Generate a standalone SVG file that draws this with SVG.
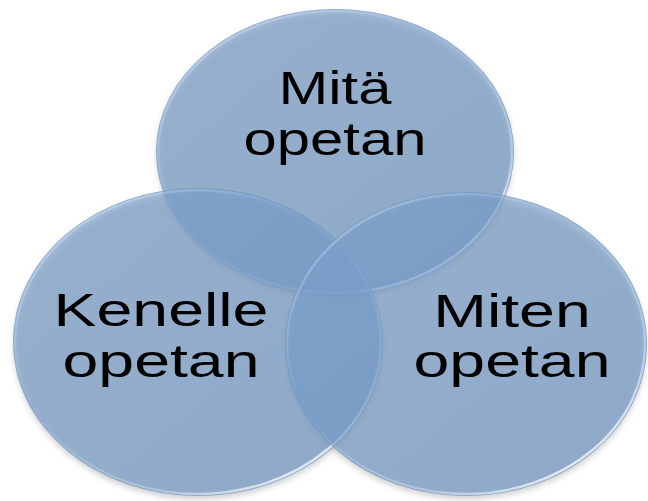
<svg xmlns="http://www.w3.org/2000/svg" width="648" height="501" viewBox="0 0 648 501">
  <defs>
    <filter id="shadow" x="-10%" y="-10%" width="120%" height="130%">
      <feGaussianBlur stdDeviation="3"/>
    </filter>
    <linearGradient id="fillGrad" x1="0" y1="0" x2="1" y2="1">
      <stop offset="0" stop-color="#7ea2cd"/>
      <stop offset="1" stop-color="#7098c7"/>
    </linearGradient>
    <linearGradient id="rimGrad" x1="0" y1="0" x2="0.8" y2="1">
      <stop offset="0" stop-color="#ffffff" stop-opacity="0.35"/>
      <stop offset="0.45" stop-color="#ffffff" stop-opacity="0"/>
      <stop offset="0.8" stop-color="#ffffff" stop-opacity="0.3"/>
      <stop offset="1" stop-color="#ffffff" stop-opacity="0.9"/>
    </linearGradient>
  </defs>
  <style>
    .disc { fill: url(#fillGrad); fill-opacity: 0.68; }
    .rim { fill: none; stroke: url(#rimGrad); stroke-width: 2.5; }
    .edge { fill: none; stroke: #5f88bb; stroke-opacity: 0.35; stroke-width: 1; }
    .shadow { fill: #000000; fill-opacity: 0.2; filter: url(#shadow); }
    .label { font-family: "Liberation Sans", Arial, sans-serif; font-size: 46px; fill: #000000; text-anchor: middle; }
  </style>

  <g id="shadows">
    <ellipse class="shadow" cx="335" cy="155" rx="178" ry="142"/>
    <ellipse class="shadow" cx="198" cy="346" rx="184" ry="153"/>
    <ellipse class="shadow" cx="466" cy="348" rx="180" ry="151"/>
  </g>

  <g id="connectors"></g>

  <g id="node-mita">
    <ellipse class="disc" cx="335" cy="152" rx="179" ry="143"/>
    <ellipse class="edge" cx="335" cy="152" rx="178.5" ry="142.5"/>
    <ellipse class="rim" cx="335" cy="152" rx="177" ry="141"/>
    <g transform="translate(335,0) scale(1.3,1)">
      <text class="label" x="0" y="104">Mitä</text>
      <text class="label" x="0" y="155">opetan</text>
    </g>
  </g>

  <g id="node-kenelle">
    <ellipse class="disc" cx="198" cy="342" rx="185" ry="154"/>
    <ellipse class="edge" cx="198" cy="342" rx="184.5" ry="153.5"/>
    <ellipse class="rim" cx="198" cy="342" rx="183" ry="152"/>
    <g transform="translate(161,0) scale(1.4,1)">
      <text class="label" x="0" y="326">Kenelle</text>
      <text class="label" x="0" y="377">opetan</text>
    </g>
  </g>

  <g id="node-miten">
    <ellipse class="disc" cx="466" cy="344" rx="181" ry="152"/>
    <ellipse class="edge" cx="466" cy="344" rx="180.5" ry="151.5"/>
    <ellipse class="rim" cx="466" cy="344" rx="179" ry="150"/>
    <g transform="translate(512,0) scale(1.4,1)">
      <text class="label" x="0" y="327">Miten</text>
      <text class="label" x="0" y="377">opetan</text>
    </g>
  </g>
</svg>
